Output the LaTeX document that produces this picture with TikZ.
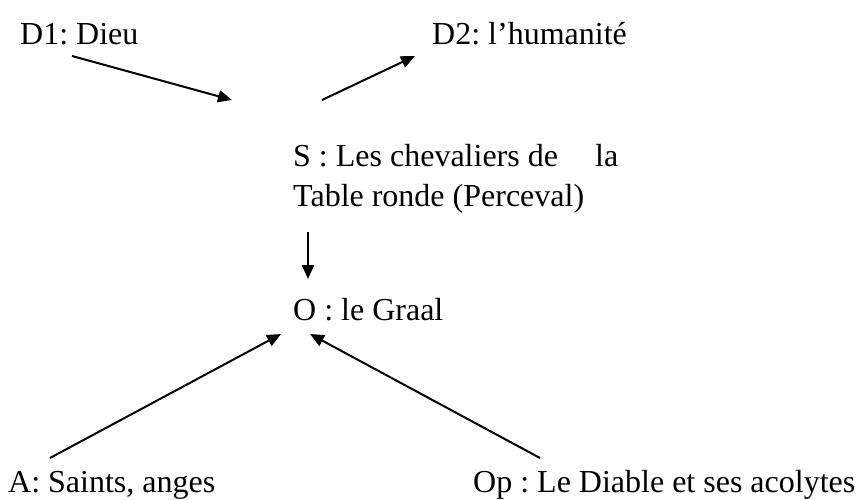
\documentclass[tikz,border=0pt]{standalone}
\usepackage{fontspec}
\setmainfont{Liberation Serif}
\usetikzlibrary{arrows.meta}
\begin{document}
\frenchspacing
\begin{tikzpicture}[x=1pt,y=-1pt,
  lbl/.style={anchor=base west,inner sep=0pt,font=\fontsize{32}{38}\selectfont},
  arr/.style={line width=2pt,-{Triangle[length=14pt,width=12pt]}}]
\useasboundingbox (0,0) rectangle (857,500);
\node[lbl] (d1) at (20,45) {D1: Dieu};
\node[lbl] (d2) at (432,45) {D2: l’humanité};
\node[lbl] (s1) at (293,167) {S : Les chevaliers de};
\node[lbl] (s1b) at (595,167) {la};
\node[lbl] (s2) at (293,206) {Table ronde (Perceval)};
\node[lbl] (o) at (293,320) {O : le Graal};
\node[lbl] (a) at (8,492) {A: Saints, anges};
\node[lbl] (op) at (473,492) {Op : Le Diable et ses acolytes};
\coordinate (d1s) at (72,56);
\coordinate (d1e) at (232,100);
\coordinate (d2s) at (322,100);
\coordinate (d2e) at (415,56);
\coordinate (ss) at (308,232);
\coordinate (se) at (308,279);
\coordinate (as) at (50,458);
\coordinate (ae) at (281,334);
\coordinate (ops) at (540,458);
\coordinate (ope) at (310,334);
\draw[arr] (d1s) -- (d1e);
\draw[arr] (d2s) -- (d2e);
\draw[arr] (ss) -- (se);
\draw[arr] (as) -- (ae);
\draw[arr] (ops) -- (ope);
\end{tikzpicture}
\end{document}
